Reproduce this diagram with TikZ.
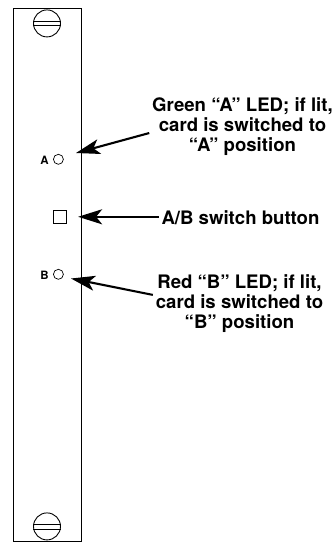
\documentclass[tikz,border=0pt]{standalone}
\usepackage{fontspec}
\setmainfont{TeX Gyre Heros}
\usetikzlibrary{arrows.meta}
\tikzset{>={Stealth[length=24pt,width=15pt,inset=6pt]},
  callout/.style={line width=2.1pt,->},
  note/.style={align=center,inner sep=0pt,outer sep=3pt,font=\fontsize{18.6}{20}\selectfont\bfseries},
  ledmark/.style={font=\fontsize{11.5}{12}\selectfont\bfseries,inner sep=0pt},
  led/.style={draw,circle,line width=0.7pt,minimum size=10pt,inner sep=0pt},
  screw/.style={draw,circle,line width=0.9pt,minimum size=27pt,inner sep=0pt}}

\begin{document}
\begin{tikzpicture}[x=1pt,y=-1pt]
    \useasboundingbox (0,0) rectangle (335,542);
    \draw[line width=0.9pt] (13,8.5) rectangle (81,541);
    % screws
    \node[screw] (screwtop) at (47,23.4) {};
    \draw[line width=0.8pt] (screwtop.west |- 0,21.8) -- (screwtop.east |- 0,21.8);
    \draw[line width=0.8pt] (screwtop.west |- 0,25.2) -- (screwtop.east |- 0,25.2);
    \node[screw] (screwbot) at (47,526.4) {};
    \draw[line width=0.8pt] (screwbot.west |- 0,524) -- (screwbot.east |- 0,524);
    \draw[line width=0.8pt] (screwbot.west |- 0,529) -- (screwbot.east |- 0,529);
    % front panel
    \node[led] (leda) at (58.4,159.3) {};
    \node[ledmark] (marka) at (44.6,160) {A};
    \node[led] (ledb) at (58.4,274.3) {};
    \node[ledmark] (markb) at (44.6,275) {B};
    \node[draw,line width=0.8pt,minimum size=13pt,inner sep=0pt] (button) at (60.2,216.8) {};
    % labels
    \node[note] (labela) at (242.5,126.5) {Green “A” LED; if lit,\\card is switched to\\“A” position};
    \node[note] (labels) at (240.5,218) {A/B switch button};
    \node[note] (labelb) at (239.5,304) {Red “B” LED; if lit,\\card is switched to\\“B” position};
    \coordinate (tipa) at (76,153);
    \coordinate (tipb) at (71,278.5);
    \draw[callout] (labela.184) -- (tipa);
    \draw[callout,shorten >=11pt] (labels.west |- button.east) -- (button.east);
    \draw[callout] (labelb.174) -- (tipb);
  \end{tikzpicture}
\end{document}
